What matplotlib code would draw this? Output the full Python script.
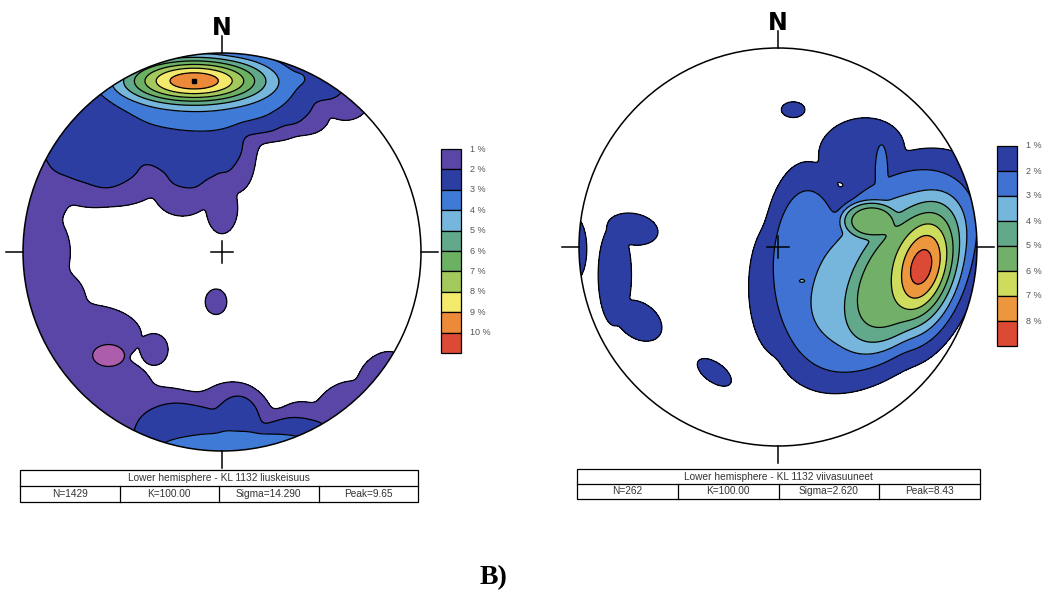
import numpy as np
import matplotlib
matplotlib.use("Agg")
import matplotlib.pyplot as plt
from matplotlib.patches import Circle, Ellipse, Rectangle

# ---- data ----------------------------------------------------------------
# density concentrations in unit-circle coords (x east, y north)
# columns: x, y, amplitude (%), sigma_x, sigma_y, rotation (deg), shape power
left_blobs = [
    # main maximum near N
    (-0.14, 0.86, 9.7, 0.30, 0.10, 0, 2),
    (-0.10, 0.81, 3.5, 0.47, 0.22, 0, 4),
    # 2 % cap in the north
    (-0.64, 0.67, 2.6, 0.35, 0.38, 0, 4),
    (-0.15, 0.66, 2.6, 0.30, 0.36, 0, 4),
    (0.25, 0.85, 2.6, 0.25, 0.25, 0, 4),
    (0.50, 0.90, 2.6, 0.15, 0.15, 0, 4),
    # 1 % girdle
    (0.62, 0.76, 1.6, 0.12, 0.10, 0, 4),
    (0.42, 0.68, 1.6, 0.12, 0.09, 0, 4),
    (0.20, 0.64, 1.6, 0.10, 0.08, 0, 4),
    (0.07, 0.45, 1.6, 0.09, 0.15, 0, 4),
    (0.00, 0.22, 1.6, 0.08, 0.13, 0, 4),
    (-0.20, 0.30, 1.6, 0.14, 0.12, 0, 4),
    (-0.50, 0.35, 1.6, 0.18, 0.11, 0, 4),
    (-0.92, 0.30, 1.6, 0.15, 0.20, 0, 4),
    (-0.90, 0.00, 1.6, 0.14, 0.20, 0, 4),
    (-0.88, -0.25, 1.6, 0.20, 0.18, 0, 4),
    (-0.70, -0.42, 1.6, 0.30, 0.16, 0, 4),
    (-0.34, -0.49, 1.6, 0.07, 0.08, 0, 4),
    (-0.60, -0.70, 1.6, 0.26, 0.18, 0, 4),
    (-0.30, -0.85, 1.6, 0.20, 0.17, 0, 4),
    (0.05, -0.88, 1.6, 0.22, 0.23, 0, 4),
    (0.40, -0.90, 1.6, 0.15, 0.15, 0, 4),
    (0.62, -0.80, 1.6, 0.18, 0.14, 35, 4),
    (0.80, -0.62, 1.6, 0.14, 0.10, 45, 4),
    (-0.03, -0.25, 1.6, 0.055, 0.065, 0, 4),
    # southern 2-3 % patch
    (-0.20, -0.95, 2.6, 0.28, 0.21, 0, 4),
    (0.08, -0.86, 2.6, 0.12, 0.15, 0, 4),
    (0.35, -0.98, 2.6, 0.25, 0.16, 0, 4),
    (0.10, -1.00, 3.6, 0.45, 0.10, 0, 4),
]
right_blobs = [
    # main maximum east of centre
    (0.72, -0.10, 8.45, 0.14, 0.25, -15, 2),
    (0.62, -0.13, 5.75, 0.42, 0.23, 57, 4),
    (0.47, 0.13, 5.5, 0.15, 0.10, 0, 4),
    (0.53, -0.12, 3.6, 0.56, 0.35, 51, 4),
    (0.15, -0.10, 2.6, 0.20, 0.45, 0, 4),
    (0.52, 0.38, 2.7, 0.035, 0.15, 0, 4),
    (0.12, -0.17, 3.2, 0.025, 0.015, 0, 2),
    (0.00, -0.20, 1.6, 0.15, 0.35, 0, 4),
    (0.42, 0.48, 1.6, 0.22, 0.17, 10, 4),
    (0.35, -0.52, 1.6, 0.25, 0.15, 0, 4),
    (0.75, 0.15, 1.6, 0.24, 0.28, 0, 4),
    # isolated small patches
    (0.076, 0.69, 1.6, 0.06, 0.04, 0, 4),
    (-0.32, -0.63, 1.6, 0.10, 0.05, -35, 4),
    (-0.73, 0.09, 1.6, 0.13, 0.08, -10, 4),
    (-0.82, -0.14, 1.6, 0.085, 0.26, 0, 4),
    (-0.70, -0.37, 1.6, 0.13, 0.09, -35, 4),
    (-1.02, -0.01, 1.6, 0.06, 0.16, 0, 4),
]

left_levels = [1, 2, 3, 4, 5, 6, 7, 8, 9, 10]
left_colors = ["#5a46a6", "#2c3ea2", "#3f7bd6", "#76b6dc", "#62a98c",
               "#6cb064", "#a3c95c", "#f3ea6c", "#ec8a3a", "#dc4a36"]
right_levels = [1, 2, 3, 4, 5, 6, 7, 8]
right_colors = ["#2c3ea2", "#3f72d2", "#76b6dc", "#62a98c",
                "#72b06a", "#cddc5c", "#ec963e", "#dc4a36"]

left_spot = (-0.57, -0.52)     # magenta spot inside the 1 % girdle
left_spot_size = (0.16, 0.11)

left_title = "Lower hemisphere - KL 1132 liuskeisuus"
left_stats = ["N=1429", "K=100.00", "Sigma=14.290", "Peak=9.65"]
right_title = "Lower hemisphere - KL 1132 viivasuuneet"
right_stats = ["N=262", "K=100.00", "Sigma=2.620", "Peak=8.43"]


# ---- helpers --------------------------------------------------------------
def density(blobs, X, Y, k=4):
    # smooth maximum of the blobs (power mean)
    acc = np.zeros_like(X)
    for x0, y0, a, sx, sy, rot, p in blobs:
        t = np.radians(rot)
        dx, dy = X - x0, Y - y0
        u = (dx * np.cos(t) + dy * np.sin(t)) / sx
        v = (-dx * np.sin(t) + dy * np.cos(t)) / sy
        r2 = u ** 2 + v ** 2
        acc += (a * np.exp(-0.5 * r2 ** (p / 2))) ** k
    return acc ** (1.0 / k)


def stereonet(ax, cx, cy, R, blobs, levels, colors, k=4, spot=None,
              spot_size=None, mark_peak=False):
    g = np.linspace(-1.05, 1.05, 500)
    X, Y = np.meshgrid(g, g)
    Z = density(blobs, X, Y, k)
    Z[X ** 2 + Y ** 2 > 1.02] = 0
    PX, PY = cx + R * X, cy - R * Y
    clip = Circle((cx, cy), R, transform=ax.transData)
    lv = list(levels) + [1e3]
    cf = ax.contourf(PX, PY, Z, levels=lv, colors=colors)
    cl = ax.contour(PX, PY, Z, levels=levels, colors="black", linewidths=0.9)
    cf.set_clip_path(clip)
    cl.set_clip_path(clip)
    if spot is not None:
        ax.add_patch(Ellipse((cx + R * spot[0], cy - R * spot[1]),
                             R * spot_size[0], R * spot_size[1],
                             facecolor="#ac5eac", edgecolor="black", lw=0.9))
    if mark_peak:
        i = np.unravel_index(np.argmax(Z), Z.shape)
        ax.plot(PX[i], PY[i], "ks", ms=2.2)
    ax.add_patch(Circle((cx, cy), R, fill=False, edgecolor="black", lw=1.1))
    # ticks at N, E, S, W and the centre cross
    t = 0.085 * R
    ax.plot([cx, cx], [cy - R - t, cy - R], color="black", lw=1.1)
    ax.plot([cx, cx], [cy + R, cy + R + t], color="black", lw=1.1)
    ax.plot([cx - R - t, cx - R], [cy, cy], color="black", lw=1.1)
    ax.plot([cx + R, cx + R + t], [cy, cy], color="black", lw=1.1)
    c = 0.055 * R
    ax.plot([cx - c, cx + c], [cy, cy], color="black", lw=1.1)
    ax.plot([cx, cx], [cy - c, cy + c], color="black", lw=1.1)
    ax.text(cx, cy - R - t + 4, "N", ha="center", va="bottom",
            fontsize=17, fontweight="bold", family="DejaVu Sans")


def legend(ax, x, y, w, h, levels, colors):
    for i, (lv, col) in enumerate(zip(levels, colors)):
        ax.add_patch(Rectangle((x, y + i * h), w, h, facecolor=col,
                               edgecolor="black", lw=0.9))
        ax.text(x + w + 9, y + i * h, f"{lv} %", ha="left", va="center",
                fontsize=6.5, color="#555555", family="Liberation Sans")


def table(ax, x, y, w, h, title, stats):
    ax.add_patch(Rectangle((x, y), w, 2 * h, fill=False, edgecolor="black", lw=0.9))
    ax.plot([x, x + w], [y + h, y + h], color="black", lw=0.9)
    ax.text(x + w / 2, y + h / 2, title, ha="center", va="center",
            fontsize=7.3, color="#333333", family="Liberation Sans")
    cw = w / len(stats)
    for i, s in enumerate(stats):
        if i:
            ax.plot([x + i * cw] * 2, [y + h, y + 2 * h], color="black", lw=0.9)
        ax.text(x + (i + 0.5) * cw, y + 1.5 * h, s, ha="center", va="center",
                fontsize=7.3, color="#333333", family="Liberation Sans")


# ---- figure ---------------------------------------------------------------
fig = plt.figure(figsize=(10.46, 5.91), dpi=100)
ax = fig.add_axes([0, 0, 1, 1])
ax.set_xlim(0, 1046)
ax.set_ylim(591, 0)
ax.axis("off")

stereonet(ax, 222, 252, 199, left_blobs, left_levels, left_colors, k=4,
          spot=left_spot, spot_size=left_spot_size, mark_peak=True)
stereonet(ax, 778, 247, 199, right_blobs, right_levels, right_colors, k=8)

legend(ax, 441, 149, 20, 20.4, left_levels, left_colors)
legend(ax, 997, 146, 20, 25, right_levels, right_colors)

table(ax, 20, 470, 398, 16, left_title, left_stats)
table(ax, 577, 469, 403, 15, right_title, right_stats)

ax.text(493, 578, "B)", ha="center", va="center", fontsize=20,
        fontweight="bold", family="Liberation Serif")

fig.savefig("out.png", dpi=100)
